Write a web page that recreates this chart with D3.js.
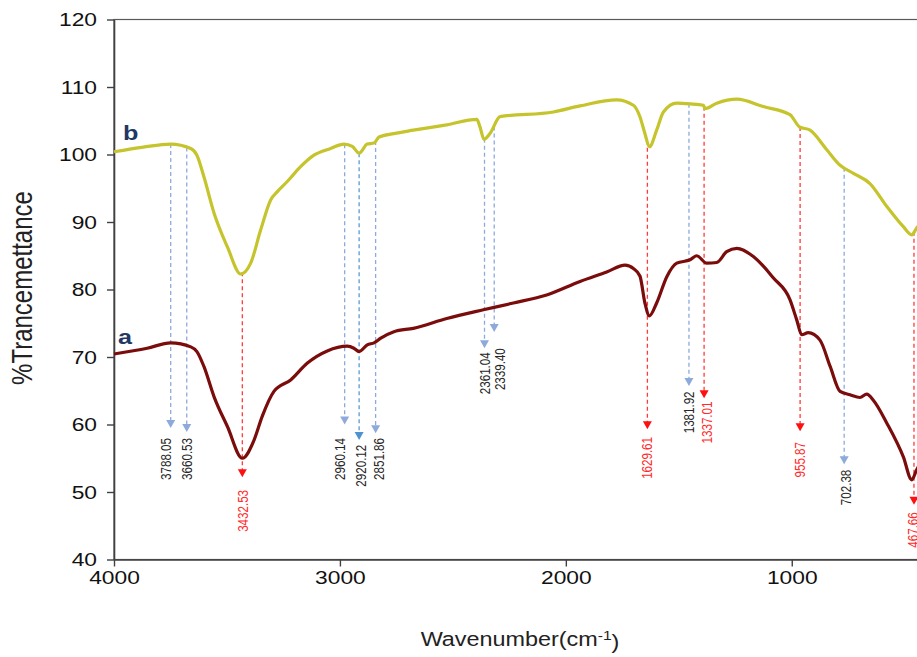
<!DOCTYPE html>
<html>
<head>
<meta charset="utf-8">
<script src="https://cdn.jsdelivr.net/npm/d3@7"></script>
<style>
  body { margin: 0; background: #fff; }
  text { font-family: "Liberation Sans", Arial, sans-serif; }
</style>
</head>
<body>
<svg id="ftir"></svg>
<script>
// spectrum b (upper, yellow)
const waveB = [4000,3870,3749,3660,3633,3602,3557,3498,3439,3395,3351,3306,3277,3233,3174,3115,3041,2982,2945,2915,
    2879,2849,2827,2761,2675,2527,2394,2380,2362,2336,2291,2055,1937,1775,1701,1672,1650,1630,1598,1568,
    1509,1450,1391,1384,1332,1243,1126,1008,966,919,845,786,727,654,579,506,469,447,400];
const transB = [100.4,101.1,101.55,100.9,99.9,96.7,91.3,86.3,82.3,83.9,88.8,93.3,94.5,96.0,98.2,99.9,100.9,101.55,101.2,100.2,
    101.55,101.7,102.6,103.1,103.6,104.4,105.2,104.1,102.25,103.1,105.6,106.3,107.2,108.1,107.3,105.6,103.1,101.15,103.6,106.3,
    107.6,107.5,107.3,106.8,107.6,108.2,107.1,105.9,104.1,103.6,100.7,98.4,97.2,95.7,92.3,89.3,88.1,89.1,91];

// spectrum a (lower, dark red)
const waveA = [4000,3853,3749,3660,3633,3602,3557,3498,3432,3380,3344,3292,3218,3144,3056,2967,2938,2915,2879,2849,
    2819,2761,2675,2527,2365,2232,2085,1937,1819,1738,1701,1672,1650,1630,1598,1553,1509,1450,1421,1376,
    1332,1288,1243,1170,1081,1008,978,956,927,875,830,786,742,698,668,639,579,506,469,447,400];
const transA = [70.45,71.3,72.1,71.5,70.8,68.6,64.1,59.7,55.0,57.7,61.2,64.9,66.6,69.1,70.9,71.6,71.3,70.8,71.8,72.1,
    72.8,73.75,74.25,75.7,77.0,78.0,79.2,81.2,82.6,83.6,83.1,82.0,78.0,76.1,78.0,81.9,83.9,84.4,85.0,83.9,
    84.0,85.6,86.1,84.9,81.7,78.5,75.5,73.3,73.6,72.5,68.6,64.9,64.4,64.0,64.5,63.6,60.2,55.2,51.8,53.3,56];

// peak markers
const peakLabels = ["3788.05","3660.53","3432.53","2960.14","2920.12","2851.86","2361.04","2339.40",
    "1629.61","1381.92","1337.01","955.87","702.38","467.66"];
const peakDrawnAt = [3749,3678,3432,2979,2915,2842,2360,2317,1639,1455,1388,963,768,459];
const peakArrowTip = [59.5,58.9,52.2,60.0,57.7,58.7,71.3,73.7,59.3,65.7,63.9,59.0,54.1,48.1];
const peakLabelAt = [3770,3678,3428,2997,2904,2827,2358,2291,1642,1453,1376,963,761,462];
const peakLabelTop = [58.0,58.0,50.3,58.0,57.0,58.0,70.7,71.3,58.15,64.9,63.4,57.4,53.3,47.0];
const peakType = ["blue","blue","red","blue","dark","blue","blue","blue","red","blue","red","red","blue","red"];

const xTicks = [4000, 3000, 2000, 1000];
const yTicks = [40, 50, 60, 70, 80, 90, 100, 110, 120];

const W = 917, H = 657;
const svg = d3.select("#ftir").attr("width", W).attr("height", H);

const x = d3.scaleLinear().domain([4000, 400]).range([114, 927.3]);
const y = d3.scaleLinear().domain([40, 120]).range([559.5, 19.5]);

const lineColors = {blue: "#8eaadb", dark: "#5b9bd5", red: "#ff3b3b"};
const arrowColors = {blue: "#8eaadb", dark: "#4f92d0", red: "#ff1010"};
const textColors = {blue: "#262626", dark: "#262626", red: "#ff2a2a"};

const specB = waveB.map((w, i) => ({w, t: transB[i]}));
const specA = waveA.map((w, i) => ({w, t: transA[i]}));

// value of spectrum b at a wavenumber (data sorted descending)
function bAt(w) {
    for (let i = 0; i < specB.length - 1; i++) {
        const p = specB[i], q = specB[i + 1];
        if (w <= p.w && w >= q.w) return p.t + (q.t - p.t) * (p.w - w) / (p.w - q.w);
    }
    return specB[specB.length - 1].t;
}

// plot frame (top / right edges)
svg.append("rect")
    .attr("x", x(4000)).attr("y", y(120))
    .attr("width", x(400) - x(4000)).attr("height", y(40) - y(120))
    .attr("fill", "none").attr("stroke", "#595959").attr("stroke-width", 1.2);

// axes
const yAxis = svg.append("g")
    .attr("transform", `translate(${x(4000)},0)`)
    .call(d3.axisLeft(y).tickValues(yTicks).tickSize(7).tickPadding(10).tickSizeOuter(0));
const xAxis = svg.append("g")
    .attr("transform", `translate(0,${y(40)})`)
    .call(d3.axisBottom(x).tickValues(xTicks).tickFormat(d3.format("d"))
        .tickSize(7).tickPadding(4).tickSizeOuter(0));

[yAxis, xAxis].forEach(ax => {
    ax.select(".domain").attr("stroke", "#404040").attr("stroke-width", 1.6);
    ax.selectAll(".tick line").attr("stroke", "#404040").attr("stroke-width", 1.4);
    ax.selectAll(".tick text")
        .style("font-family", "'Liberation Sans', Arial, sans-serif")
        .style("font-size", "19px")
        .attr("fill", "#111");
});
yAxis.selectAll(".tick text").attr("x", -17 / 1.2).attr("transform", "scale(1.2,1)");
xAxis.selectAll(".tick text").attr("transform", "scale(1.2,1)");

// dashed peak lines + arrows
const peaks = peakLabels.map((label, i) => ({
    label, w: peakDrawnAt[i], tip: peakArrowTip[i],
    lw: peakLabelAt[i], top: peakLabelTop[i], type: peakType[i]
}));

const marks = svg.append("g");
marks.selectAll("line")
    .data(peaks)
    .join("line")
    .attr("x1", d => x(d.w)).attr("x2", d => x(d.w))
    .attr("y1", d => y(bAt(d.w)))
    .attr("y2", d => y(d.tip) - 7)
    .attr("stroke", d => lineColors[d.type])
    .attr("stroke-width", 1.3)
    .attr("stroke-dasharray", "4,3");

marks.selectAll("path")
    .data(peaks)
    .join("path")
    .attr("d", d => {
        const cx = x(d.w), ty = y(d.tip);
        return `M${cx - 4.5},${ty - 8}L${cx + 4.5},${ty - 8}L${cx},${ty}Z`;
    })
    .attr("fill", d => arrowColors[d.type]);

marks.selectAll("text")
    .data(peaks)
    .join("text")
    .attr("transform", d => `translate(${x(d.lw)},${y(d.top)}) scale(1.2,1) rotate(-90)`)
    .attr("text-anchor", "end")
    .attr("dy", "0.35em")
    .style("font-size", "11.6px")
    .attr("fill", d => textColors[d.type])
    .text(d => d.label);

// spectra
const line = d3.line().x(d => x(d.w)).y(d => y(d.t)).curve(d3.curveMonotoneX);

svg.append("path")
    .datum(specB)
    .attr("d", line)
    .attr("fill", "none")
    .attr("stroke", "#c5c42c")
    .attr("stroke-width", 3.2)
    .attr("stroke-linejoin", "round");

svg.append("path")
    .datum(specA)
    .attr("d", line)
    .attr("fill", "none")
    .attr("stroke", "#7b0c0c")
    .attr("stroke-width", 3.2)
    .attr("stroke-linejoin", "round");

// curve names
svg.append("text")
    .attr("transform", `translate(${x(3960)},${y(102.15)}) scale(1.2,1)`)
    .style("font-size", "21px").style("font-weight", "bold")
    .attr("fill", "#1f3864")
    .text("b");
svg.append("text")
    .attr("transform", `translate(${x(3982)},${y(71.9)}) scale(1.2,1)`)
    .style("font-size", "21px").style("font-weight", "bold")
    .attr("fill", "#1f3864")
    .text("a");

// axis titles
svg.append("text")
    .attr("transform", "translate(22,288) scale(1.2,1) rotate(-90)")
    .attr("text-anchor", "middle")
    .attr("dy", "0.35em")
    .style("font-size", "24px")
    .attr("fill", "#222")
    .text("%Trancemettance");

const xt = svg.append("text")
    .attr("transform", "translate(520,646) scale(1.2,1)")
    .attr("text-anchor", "middle")
    .style("font-size", "19.5px")
    .attr("fill", "#222");
xt.append("tspan").text("Wavenumber(cm");
xt.append("tspan").attr("dy", "-0.5em").style("font-size", "13px").text("-1");
xt.append("tspan").attr("dy", "0.5em").text(")");
</script>
</body>
</html>
